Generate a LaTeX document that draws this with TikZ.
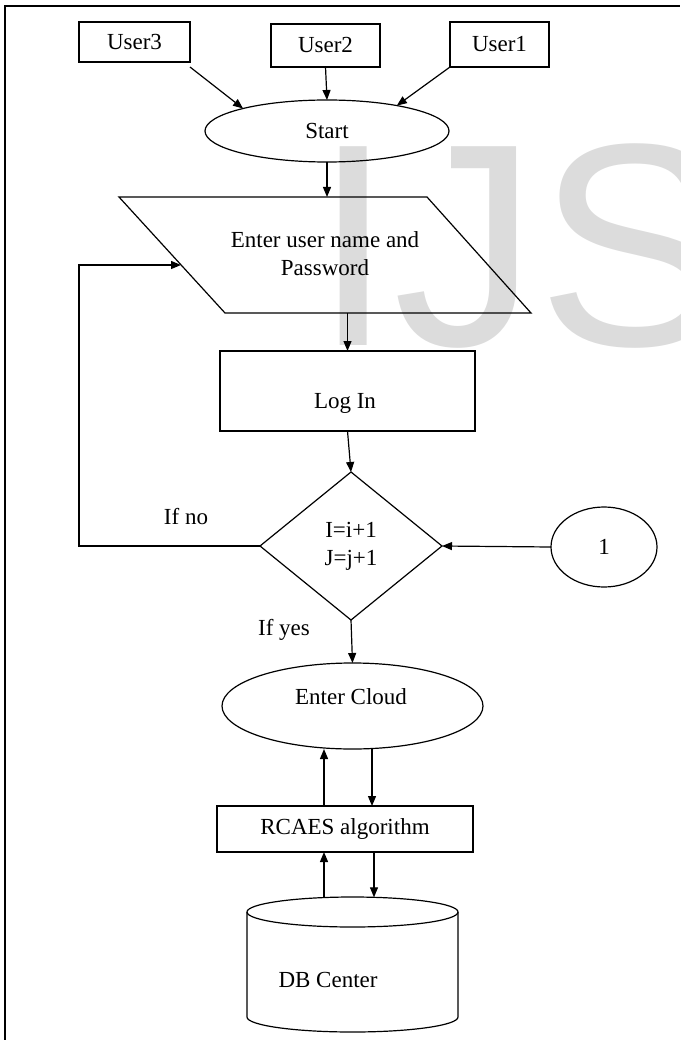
\documentclass[tikz,border=0pt]{standalone}
\usepackage{fontspec}
\setmainfont{Liberation Serif}
\newfontfamily\wmfont{Liberation Sans}
\usetikzlibrary{shapes.geometric,arrows.meta}
\definecolor{wmgray}{RGB}{220,220,220}

\begin{document}
\begin{tikzpicture}[x=1pt,y=-1pt,line width=1.2pt,
  every node/.style={font=\fontsize{23}{28}\selectfont,inner sep=0pt,outer sep=0pt},
  box/.style={draw,rectangle},
  oval/.style={draw,ellipse},
  decision/.style={draw,diamond},
  arr/.style={-{Triangle[length=10pt,width=8pt]}}]

% page area
\useasboundingbox (0,0) rectangle (680,1040);

% watermark lettering behind the chart
\node[anchor=base west,text=wmgray] (wm) at (313,345)
  {\wmfont\fontsize{289}{289}\selectfont IJS};

% frame (left and top edges)
\draw[line width=2pt] (5,1040) -- (5,6) -- (680,6);

% users
\node[box,minimum width=111pt,minimum height=40pt] (u3) at (134.5,42) {User3};
\node[box,minimum width=109pt,minimum height=43pt] (u2) at (325.5,45.5) {User2};
\node[box,minimum width=99pt,minimum height=45pt]  (u1) at (499.5,44.5) {User1};

% start
\node[oval,minimum width=244pt,minimum height=62pt] (start) at (327,131) {Start};

% input parallelogram
\coordinate (pTL) at (119,197);
\coordinate (pTR) at (427,197);
\coordinate (pBR) at (531,313);
\coordinate (pBL) at (225,313);
\draw (pTL) -- (pTR) -- (pBR) -- (pBL) -- cycle;
\node[align=center] (input) at (325,254) {Enter user name and\\Password};
\coordinate (pIn) at (181,265);

% log in
\node[box,minimum width=255pt,minimum height=80pt] (login) at (347.5,391) {};
\node (logintext) at (345,403) {Log In};

% decision
\node[decision,minimum width=182pt,minimum height=148pt,align=center] (dia) at (351,546)
  {I=i+1\\J=j+1};

% connector circle
\node[oval,minimum width=106pt,minimum height=80pt] (one) at (604,547) {1};

% branch labels
\node (ifno)  at (186,517) {If no};
\node (ifyes) at (284,630) {If yes};

% cloud, algorithm, database
\node[oval,minimum width=261pt,minimum height=86pt] (cloud) at (352.5,706) {};
\node (cloudtext) at (351,697) {Enter Cloud};
\node[box,minimum width=256pt,minimum height=46pt] (rcaes) at (345,829) {RCAES algorithm};

\coordinate (dbc) at (352.5,912);
\draw (247,912) -- (247,1017) arc[start angle=180,end angle=360,x radius=105.5pt,y radius=15pt] -- (458,912);
\draw (dbc) ellipse [x radius=105.5pt,y radius=15pt];
\node (db) at (328,980) {DB Center};
\coordinate (dbL) at (324,897.6);
\coordinate (dbR) at (374,897.3);
\coordinate (colL) at (324,0);
\coordinate (colR) at (372,0);

% connectors
\draw[arr] (u3.south east) ++(0,5) -- (start.165);
\draw[arr] (u2.south) -- (start.north);
\draw[arr] (u1.south west) -- (start.20);
\draw[arr] (start.south) -- (start.south |- pTL);
\draw[arr] (login.north |- pBL) -- (login.north);
\draw[arr] (login.south) -- (dia.north);
\draw[arr] (dia.west) -| (79,265) -- (pIn);
\draw[arr] (one.west) -- (dia.east);
\draw[arr] (dia.south) -- (cloud.north);
\draw[arr] (rcaes.north -| colL) -- (cloud.south -| colL);
\draw[arr] (cloud.south -| colR) -- (rcaes.north -| colR);
\draw[arr] (dbL) -- (rcaes.south -| dbL);
\draw[arr] (rcaes.south -| dbR) -- (dbR);
\end{tikzpicture}
\end{document}
